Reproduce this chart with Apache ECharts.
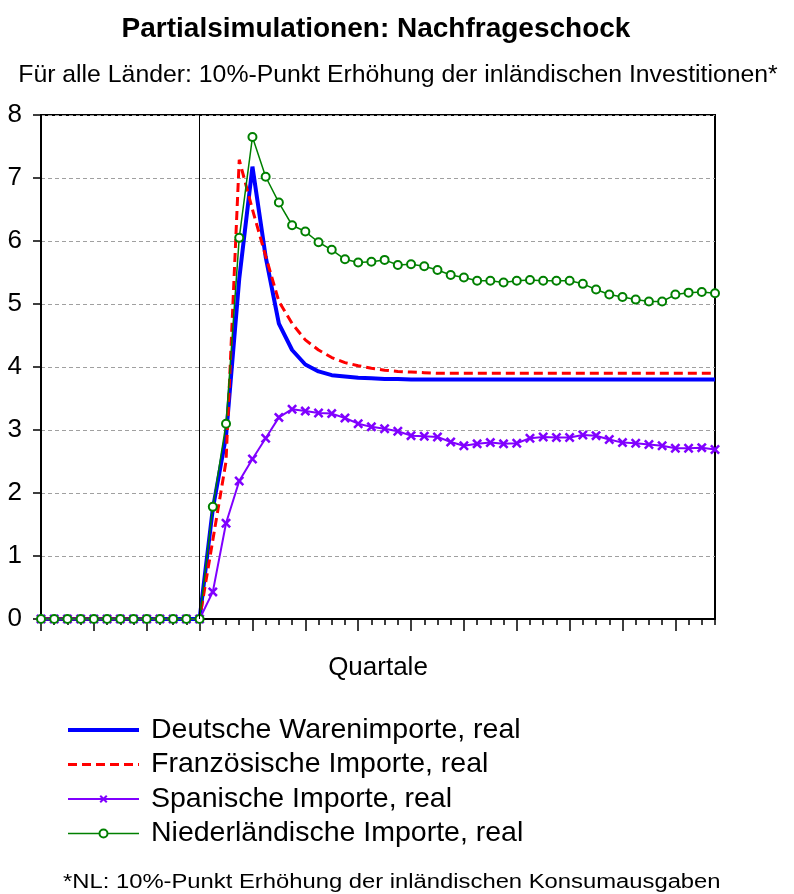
<!DOCTYPE html>
<html>
<head>
<meta charset="utf-8">
<script src="https://cdn.jsdelivr.net/npm/echarts@6/dist/echarts.min.js"></script>
<style>
  html, body { margin: 0; padding: 0; background: #fff; }
  #chart { width: 794px; height: 894px; }
</style>
</head>
<body>
<div id="chart"></div>
<script>
// Quarters relative to the demand shock (shock in quarter 0)
const quarters = ['-12','-11','-10','-9','-8','-7','-6','-5','-4','-3','-2','-1',
  '0','1','2','3','4','5','6','7','8','9','10','11','12','13','14','15','16','17','18','19',
  '20','21','22','23','24','25','26','27','28','29','30','31','32','33','34','35','36','37','38','39'];
const shockIndex = 12;

const yTicks = { min: 0, max: 8, step: 1 };

const deutsche = [0,0,0,0,0,0,0,0,0,0,0,0,0,
  1.75, 2.90, 5.40, 7.18, 5.75, 4.69, 4.27, 4.04, 3.93, 3.87, 3.85, 3.83, 3.82, 3.81, 3.81,
  3.80, 3.80, 3.80, 3.80, 3.80, 3.80, 3.80, 3.80, 3.80, 3.80, 3.80, 3.80,
  3.80, 3.80, 3.80, 3.80, 3.80, 3.80, 3.80, 3.80, 3.80, 3.80, 3.80, 3.80];

const franzoesisch = [0,0,0,0,0,0,0,0,0,0,0,0,0,
  1.25, 2.50, 7.29, 6.50, 5.76, 5.04, 4.69, 4.43, 4.27, 4.15, 4.07, 4.02, 3.98, 3.95, 3.93,
  3.92, 3.91, 3.90, 3.90, 3.90, 3.90, 3.90, 3.90, 3.90, 3.90, 3.90, 3.90,
  3.90, 3.90, 3.90, 3.90, 3.90, 3.90, 3.90, 3.90, 3.90, 3.90, 3.90, 3.90];

const spanisch = [0,0,0,0,0,0,0,0,0,0,0,0,0,
  0.43, 1.52, 2.19, 2.54, 2.87, 3.20, 3.33, 3.30, 3.27, 3.26, 3.19, 3.10, 3.05, 3.02, 2.98,
  2.91, 2.90, 2.89, 2.81, 2.75, 2.78, 2.80, 2.78, 2.79, 2.87, 2.89, 2.88,
  2.88, 2.92, 2.91, 2.85, 2.80, 2.79, 2.77, 2.75, 2.71, 2.71, 2.72, 2.69];

const niederlaendisch = [0,0,0,0,0,0,0,0,0,0,0,0,0,
  1.78, 3.10, 6.05, 7.65, 7.02, 6.61, 6.25, 6.15, 5.98, 5.86, 5.71, 5.66, 5.67, 5.70, 5.62,
  5.63, 5.60, 5.54, 5.46, 5.42, 5.37, 5.37, 5.34, 5.37, 5.38, 5.37, 5.37,
  5.37, 5.32, 5.23, 5.15, 5.11, 5.07, 5.04, 5.04, 5.15, 5.18, 5.19, 5.17];

const seriesNames = [
  'Deutsche Warenimporte, real',
  'Französische Importe, real',
  'Spanische Importe, real',
  'Niederländische Importe, real'
];

const FONT = '"Liberation Sans", Arial, sans-serif';
const crossSymbol = 'path://M0,1.8 L1.8,0 L5,3.2 L8.2,0 L10,1.8 L6.8,5 L10,8.2 L8.2,10 L5,6.8 L1.8,10 L0,8.2 L3.2,5 Z';

const chart = echarts.init(document.getElementById('chart'), null, { renderer: 'canvas' });

chart.setOption({
  animation: false,
  backgroundColor: '#fff',
  graphic: [
    { type: 'text', x: 376, y: 29, style: { text: 'Partialsimulationen: Nachfrageschock',
      font: 'bold 28px ' + FONT, fill: '#000', align: 'center', verticalAlign: 'middle' } },
    { type: 'text', x: 398, y: 75, style: { text: 'Für alle Länder: 10%-Punkt Erhöhung der inländischen Investitionen*',
      font: '24.8px ' + FONT, fill: '#000', align: 'center', verticalAlign: 'middle' } },
    { type: 'text', x: 63, y: 882, scaleX: 1.19, style: { text: '*NL: 10%-Punkt Erhöhung der inländischen Konsumausgaben',
      font: '20px ' + FONT, fill: '#000', align: 'left', verticalAlign: 'middle' } }
  ],
  grid: {
    left: 41, right: 79, top: 115, bottom: 275,
    show: true, borderColor: '#000', borderWidth: 2, backgroundColor: 'transparent'
  },
  legend: {
    orient: 'vertical', left: 61, top: 710,
    itemWidth: 71, itemHeight: 10, itemGap: 4.5,
    data: [
      { name: seriesNames[0], itemStyle: { opacity: 0 } },
      { name: seriesNames[1], itemStyle: { opacity: 0 } },
      { name: seriesNames[2] },
      { name: seriesNames[3] }
    ],
    lineStyle: { width: 'inherit' },
    textStyle: { fontSize: 28.5, fontFamily: FONT, color: '#000', lineHeight: 30, padding: [0, 0, 0, 7] },
    selectedMode: false
  },
  xAxis: [
    {
      type: 'category', data: quarters, boundaryGap: false, position: 'bottom',
      axisLine: { show: true, lineStyle: { color: '#000', width: 2 } },
      axisTick: { show: true, interval: 0, length: 6, lineStyle: { color: '#000', width: 1.5 } },
      axisLabel: { show: false },
      splitLine: { show: false },
      name: 'Quartale', nameLocation: 'middle', nameGap: 36,
      nameTextStyle: { fontSize: 26, fontFamily: FONT, color: '#000' }
    },
    {
      type: 'category', data: quarters, boundaryGap: false, position: 'bottom',
      axisLine: { show: false },
      axisTick: { show: true, interval: 3, length: 12, lineStyle: { color: '#000', width: 1.5 } },
      axisLabel: { show: false },
      splitLine: { show: false }
    }
  ],
  yAxis: {
    type: 'value', min: yTicks.min, max: yTicks.max, interval: yTicks.step,
    axisLine: { show: true, lineStyle: { color: '#000', width: 2 } },
    axisTick: { show: true, length: 8, lineStyle: { color: '#000', width: 1.5 } },
    axisLabel: { fontSize: 26, fontFamily: FONT, color: '#000', margin: 19 },
    splitLine: { show: true, lineStyle: { color: '#a0a0a0', type: [4, 3], width: 1 } }
  },
  series: [
    {
      name: seriesNames[0], type: 'line', data: deutsche, symbol: 'none',
      lineStyle: { color: '#0000ff', width: 4 }, itemStyle: { color: '#0000ff' },
      emphasis: { disabled: true },
      markLine: {
        silent: true, symbol: ['none', 'none'], label: { show: false },
        lineStyle: { color: '#000', width: 1, type: 'solid' },
        data: [{ xAxis: shockIndex }]
      }
    },
    {
      name: seriesNames[1], type: 'line', data: franzoesisch, symbol: 'none',
      lineStyle: { color: '#ff0000', width: 3, type: [9, 5] }, itemStyle: { color: '#ff0000' },
      emphasis: { disabled: true }
    },
    {
      name: seriesNames[2], type: 'line', data: spanisch,
      symbol: crossSymbol, symbolSize: 10, showAllSymbol: true,
      lineStyle: { color: '#8000ff', width: 2 }, itemStyle: { color: '#8000ff' },
      emphasis: { disabled: true }
    },
    {
      name: seriesNames[3], type: 'line', data: niederlaendisch,
      symbol: 'emptyCircle', symbolSize: 8, showAllSymbol: true,
      lineStyle: { color: '#008000', width: 1.5 }, itemStyle: { color: '#008000', borderWidth: 1.3 },
      emphasis: { disabled: true }
    }
  ]
});
</script>
</body>
</html>
